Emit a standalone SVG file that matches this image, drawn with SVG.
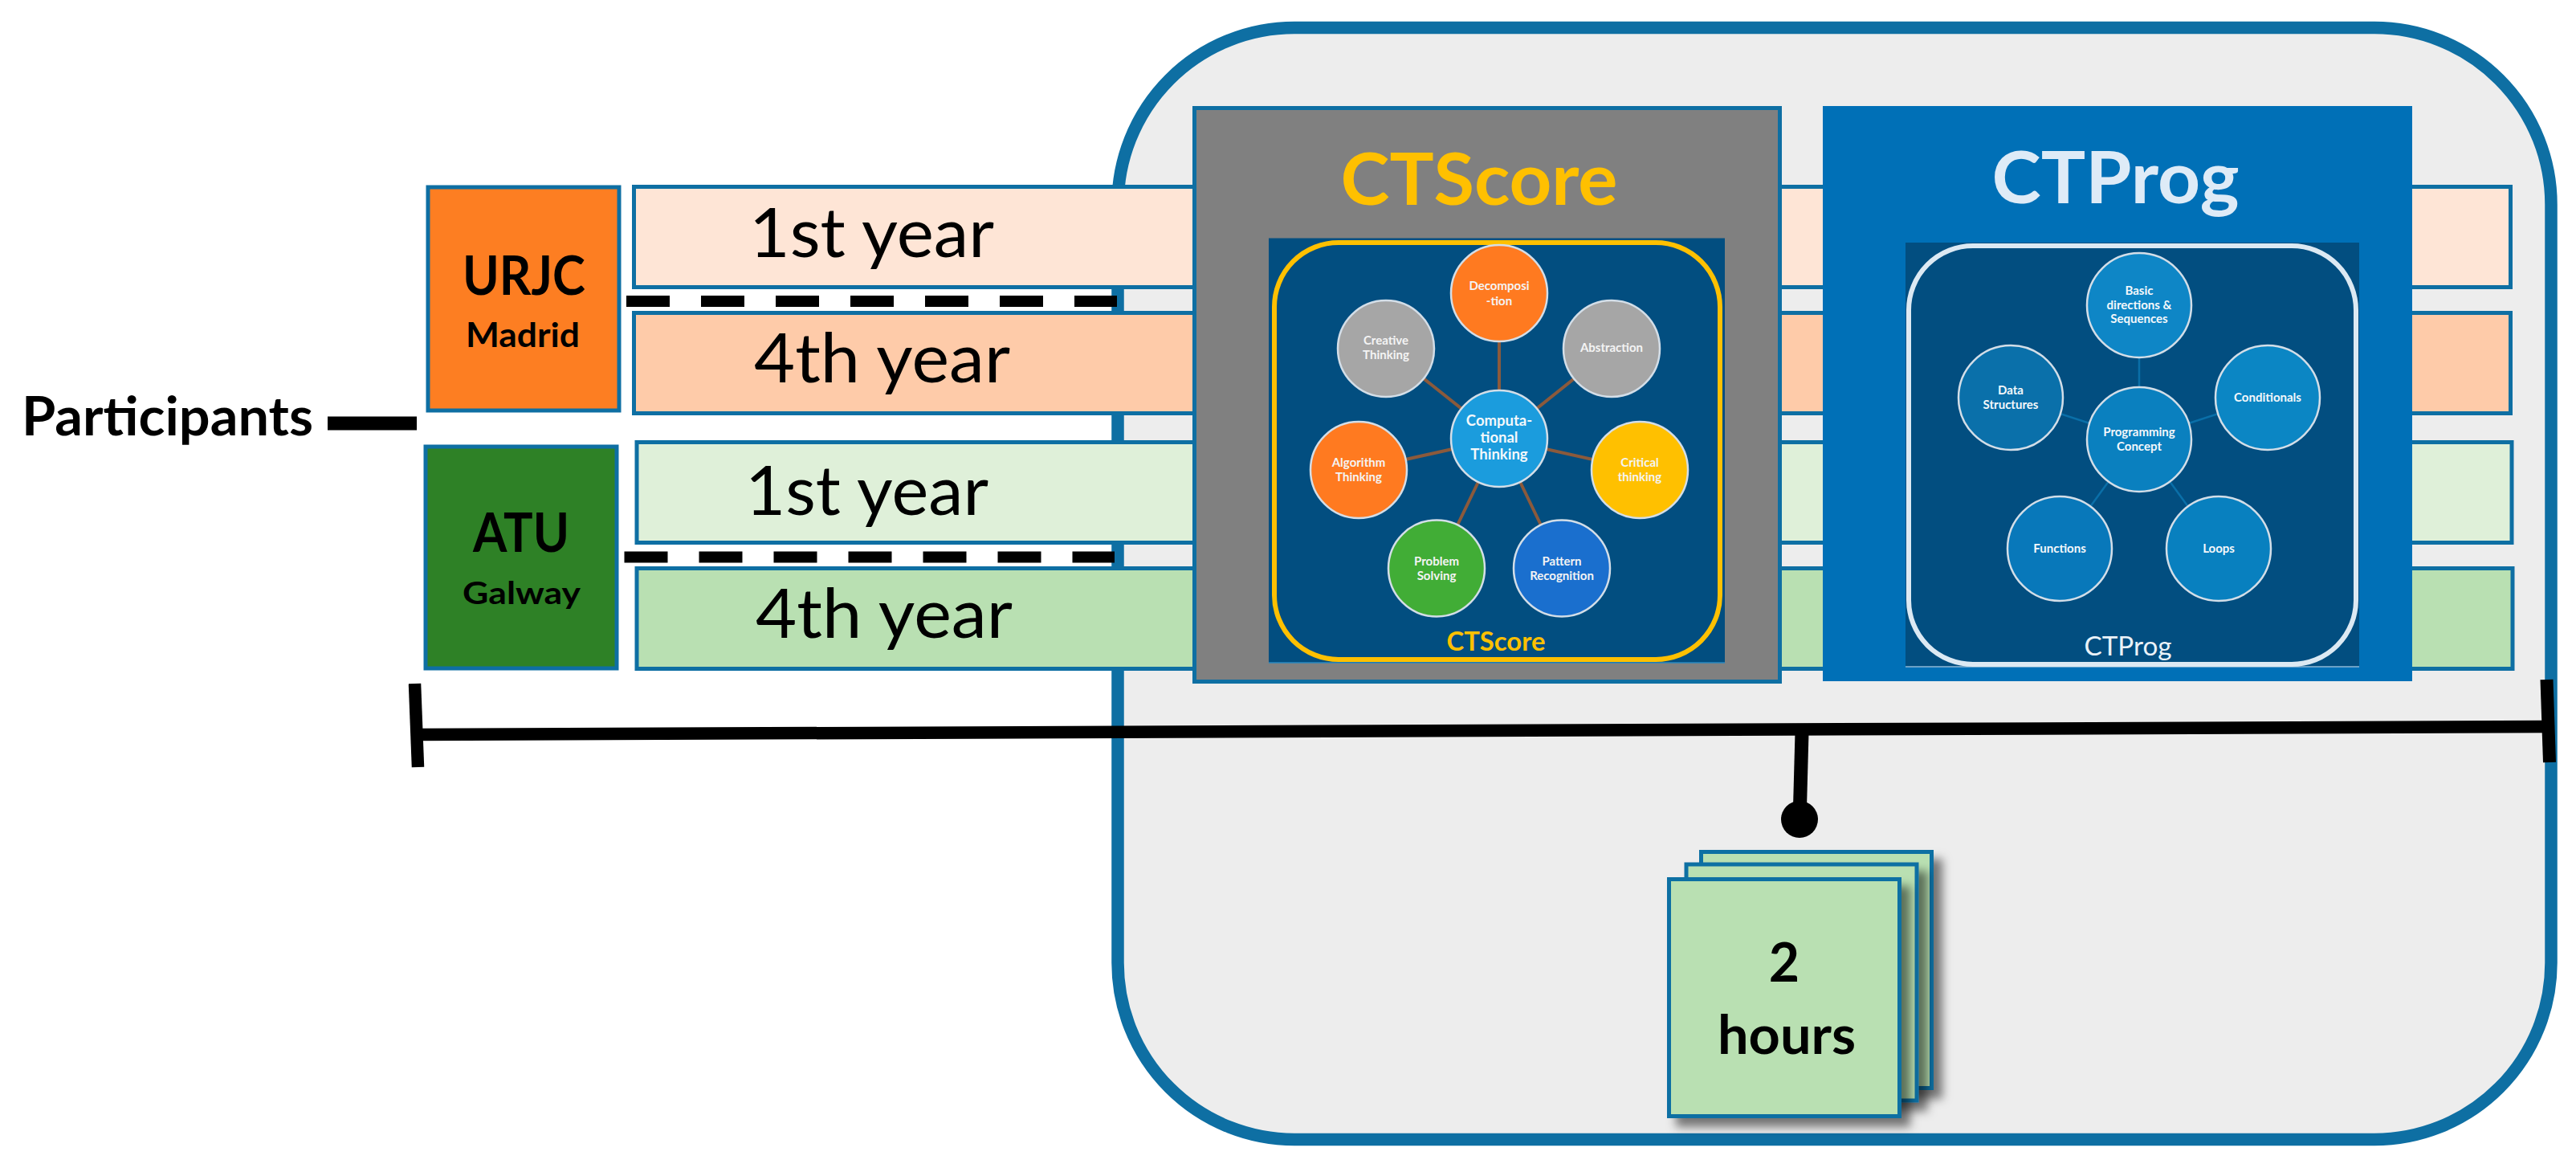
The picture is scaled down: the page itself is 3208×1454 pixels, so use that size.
<svg xmlns="http://www.w3.org/2000/svg" width="3208" height="1454" viewBox="0 0 3208 1454">
<style>
text{font-family:Lato,"Liberation Sans",sans-serif;fill:#000;text-anchor:middle}
.b{font-weight:700}
.edge{stroke:#0E6FA3;stroke-width:5;}
.bar{stroke:#0E6FA3;stroke-width:5}
.yr{font-size:86px;text-anchor:start}
.blk{stroke:#000;fill:none}
.dash{stroke:#000;stroke-width:14;stroke-dasharray:54 39;fill:none}
.spk{stroke:#8B5A3C;stroke-width:4;fill:none}
.spp{stroke:#0A6FA8;stroke-width:2.500;fill:none}
.c1{stroke:#D3DEE8;stroke-width:2.500}
.t1{font-size:15px;font-weight:700;fill:#F4F4F4}
.t2{font-size:15px;font-weight:700;fill:#F4F8FB}
.tc{font-size:18.500px;font-weight:700;fill:#F4F8FB}
.card{fill:#B9E0B2;stroke:#0E6FA3;stroke-width:5;filter:url(#sh)}
</style>
<defs>
<filter id="sh" x="-10%" y="-10%" width="130%" height="130%"><feDropShadow dx="11" dy="11" stdDeviation="6" flood-color="#000" flood-opacity="0.5"/></filter>
</defs>
<rect width="3208" height="1454" fill="#fff"/>
<g id="frame"><rect x="1392" y="34.500" width="1785" height="1384" rx="220" ry="220" fill="#EDEDED" stroke="#0E6FA3" stroke-width="15.500"/></g>
<g id="bar-urjc-1"><rect class="bar" x="789.500" y="232.500" width="2337" height="125" fill="#FEE5D6"/><text class="yr" x="933" y="320" textLength="305" lengthAdjust="spacingAndGlyphs">1st year</text></g>
<g id="bar-urjc-4"><rect class="bar" x="789.500" y="389.500" width="2337" height="125" fill="#FECBA9"/><text class="yr" x="939" y="476" textLength="319" lengthAdjust="spacingAndGlyphs">4th year</text></g>
<g id="bar-atu-1"><rect class="bar" x="793" y="550.500" width="2335" height="125" fill="#DFF0D9"/><text class="yr" x="928" y="641" textLength="303" lengthAdjust="spacingAndGlyphs">1st year</text></g>
<g id="bar-atu-4"><rect class="bar" x="793" y="707.500" width="2336" height="125" fill="#B9E0B2"/><text class="yr" x="941" y="794" textLength="320" lengthAdjust="spacingAndGlyphs">4th year</text></g>
<g id="urjc"><rect class="edge" x="533" y="233" width="238" height="278" fill="#FD7E22"/><text class="b" x="652.500" y="367" font-size="67" textLength="153" lengthAdjust="spacingAndGlyphs">URJC</text><text class="b" x="651" y="432" font-size="42" textLength="142" lengthAdjust="spacingAndGlyphs">Madrid</text></g>
<g id="atu"><rect class="edge" x="530" y="556" width="238" height="276" fill="#2E8126"/><text class="b" x="649" y="687" font-size="66" textLength="120" lengthAdjust="spacingAndGlyphs">ATU</text><text class="b" x="649.500" y="752" font-size="39" textLength="147" lengthAdjust="spacingAndGlyphs">Galway</text></g>
<g id="participants"><text class="b" x="208.500" y="542" font-size="66" textLength="363" lengthAdjust="spacingAndGlyphs">Participants</text></g>
<g id="ctscore-panel">
<rect class="edge" x="1487.500" y="134.500" width="729" height="714" fill="#808080"/>
<rect x="1580" y="296.500" width="568" height="528.500" fill="#024E80"/>
<path d="M1580 825H2148" stroke="#2A8AC0" stroke-width="1.500"/>
<rect x="1587" y="302" width="555" height="519" rx="80" ry="80" fill="none" stroke="#FFC000" stroke-width="6"/>
<text class="b" x="1842" y="254.500" font-size="90" style="fill:#FFC000" textLength="345" lengthAdjust="spacingAndGlyphs">CTScore</text>
<text x="1863" y="810" font-size="32" style="fill:#FFC000;font-weight:700" textLength="123" lengthAdjust="spacingAndGlyphs">CTScore</text>
</g>
<g id="ctprog-panel">
<rect x="2270" y="132" width="734" height="716" fill="#0070B7"/>
<rect x="2373" y="302" width="565" height="528" fill="#024E80"/>
<path d="M2373 830H2938" stroke="#8FB8D6" stroke-width="1.500"/>
<rect x="2377" y="306" width="557" height="521" rx="80" ry="80" fill="none" stroke="#DCE9F3" stroke-width="6"/>
<text class="b" x="2634.500" y="253" font-size="90" style="fill:#DEEBF7" textLength="308" lengthAdjust="spacingAndGlyphs">CTProg</text>
<text x="2650" y="816" font-size="32" style="fill:#EAF2F8" textLength="109" lengthAdjust="spacingAndGlyphs">CTProg</text>
</g>
<g id="connectors">
<path class="dash" d="M780 375H1391"/>
<path class="dash" d="M777.500 693.500H1388"/>
<path class="blk" stroke-width="17" d="M408 527H519"/>
<path class="blk" stroke-width="15.500" d="M520 914.500L3175 904.500"/>
<path class="blk" stroke-width="15.500" d="M516.500 851L520.500 955"/>
<path class="blk" stroke-width="16" d="M3171.500 846L3175 949"/>
<path class="blk" stroke-width="17" d="M2244 912L2241.500 1005"/>
<circle cx="2241" cy="1020" r="23" fill="#000"/>
<path class="spk" d="M1867 546V365M1867 546L1726 434M1867 546L2007 434M1867 546L1692 585M1867 546L2042 585M1867 546L1789 707.500M1867 546L1945 707.500"/>
<path class="spp" d="M2664 547V380M2664 547L2504 495M2664 547L2824 495M2664 547L2565 683M2664 547L2763 683"/>
</g>
<g id="ct-decomposition"><circle class="c1" cx="1867" cy="365" r="60" fill="#FF7A20"/><text class="t1" x="1867" y="361">Decomposi</text><text class="t1" x="1867" y="380">-tion</text></g>
<g id="ct-abstraction"><circle class="c1" cx="2007" cy="434" r="60" fill="#A6A6A6"/><text class="t1" x="2007" y="438">Abstraction</text></g>
<g id="ct-creative"><circle class="c1" cx="1726" cy="434" r="60" fill="#A6A6A6"/><text class="t1" x="1726" y="429">Creative</text><text class="t1" x="1726" y="447">Thinking</text></g>
<g id="ct-center"><circle class="c1" cx="1867" cy="546" r="60" fill="#1B9CDD"/><text class="tc" x="1867" y="530">Computa-</text><text class="tc" x="1867" y="551">tional</text><text class="tc" x="1867" y="572">Thinking</text></g>
<g id="ct-algorithm"><circle class="c1" cx="1692" cy="585" r="60" fill="#FF7A20"/><text class="t1" x="1692" y="581">Algorithm</text><text class="t1" x="1692" y="599">Thinking</text></g>
<g id="ct-critical"><circle class="c1" cx="2042" cy="585" r="60" fill="#FFC000"/><text class="t1" x="2042" y="581">Critical</text><text class="t1" x="2042" y="599">thinking</text></g>
<g id="ct-problem"><circle class="c1" cx="1789" cy="707.500" r="60" fill="#41AD36"/><text class="t1" x="1789" y="704">Problem</text><text class="t1" x="1789" y="722">Solving</text></g>
<g id="ct-pattern"><circle class="c1" cx="1945" cy="707.500" r="60" fill="#1A6FCE"/><text class="t1" x="1945" y="704">Pattern</text><text class="t1" x="1945" y="722">Recognition</text></g>
<g id="pg-basic"><circle class="c1" cx="2664" cy="380" r="65" fill="#0E86C6"/><text class="t2" x="2664" y="367">Basic</text><text class="t2" x="2664" y="384.500">directions &amp;</text><text class="t2" x="2664" y="402">Sequences</text></g>
<g id="pg-data"><circle class="c1" cx="2504" cy="495" r="65" fill="#0A70AA"/><text class="t2" x="2504" y="491">Data</text><text class="t2" x="2504" y="509">Structures</text></g>
<g id="pg-conditionals"><circle class="c1" cx="2824" cy="495" r="65" fill="#0B86C4"/><text class="t2" x="2824" y="500">Conditionals</text></g>
<g id="pg-center"><circle class="c1" cx="2664" cy="547" r="65" fill="#0A80BF"/><text class="t2" x="2664" y="543">Programming</text><text class="t2" x="2664" y="561">Concept</text></g>
<g id="pg-functions"><circle class="c1" cx="2565" cy="683" r="65" fill="#0878BA"/><text class="t2" x="2565" y="688">Functions</text></g>
<g id="pg-loops"><circle class="c1" cx="2763" cy="683" r="65" fill="#0880BF"/><text class="t2" x="2763" y="688">Loops</text></g>
<g id="duration">
<rect class="card" x="2118.500" y="1060.500" width="287" height="294"/>
<rect class="card" x="2100" y="1076" width="287" height="294"/>
<rect class="card" x="2078.500" y="1094.500" width="287" height="295"/>
<text class="b" x="2222" y="1222" font-size="66">2</text>
<text class="b" x="2225" y="1312" font-size="66" textLength="172" lengthAdjust="spacingAndGlyphs">hours</text>
</g>
</svg>
